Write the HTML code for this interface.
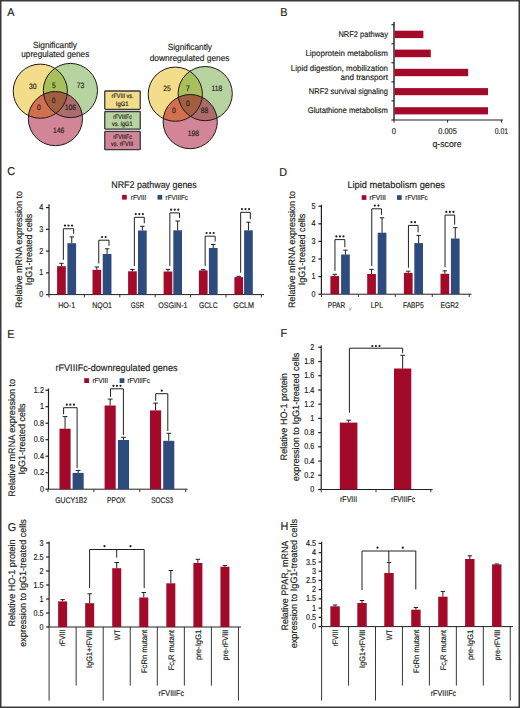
<!DOCTYPE html>
<html><head><meta charset="utf-8"><style>
html,body{margin:0;padding:0;background:#fff;}
svg{display:block;font-family:"Liberation Sans",sans-serif;}
text{stroke:#231f20;stroke-width:0.17px;text-rendering:geometricPrecision;}
</style></head><body>
<svg width="520" height="708" viewBox="0 0 520 708" fill="#231f20">
<rect x="0" y="0" width="520" height="708" fill="#fff"/>
<text x="7.30" y="15.80" font-size="11.4" textLength="7.22" lengthAdjust="spacingAndGlyphs">A</text>
<text x="280.30" y="15.90" font-size="11.4" textLength="7.22" lengthAdjust="spacingAndGlyphs">B</text>
<text x="7.30" y="175.40" font-size="11.4" textLength="7.82" lengthAdjust="spacingAndGlyphs">C</text>
<text x="279.30" y="175.70" font-size="11.4" textLength="7.82" lengthAdjust="spacingAndGlyphs">D</text>
<text x="7.30" y="337.50" font-size="11.4" textLength="7.22" lengthAdjust="spacingAndGlyphs">E</text>
<text x="280.60" y="337.00" font-size="11.4" textLength="6.62" lengthAdjust="spacingAndGlyphs">F</text>
<text x="7.80" y="530.50" font-size="11.4" textLength="8.42" lengthAdjust="spacingAndGlyphs">G</text>
<text x="280.60" y="529.80" font-size="11.4" textLength="7.82" lengthAdjust="spacingAndGlyphs">H</text>
<text x="55.00" y="47.50" font-size="8.8" text-anchor="middle" textLength="44.00" lengthAdjust="spacingAndGlyphs">Significantly</text>
<text x="55.25" y="57.00" font-size="8.8" text-anchor="middle" textLength="68.00" lengthAdjust="spacingAndGlyphs">upregulated genes</text>
<text x="189.85" y="50.40" font-size="8.8" text-anchor="middle" textLength="44.30" lengthAdjust="spacingAndGlyphs">Significantly</text>
<text x="189.60" y="60.50" font-size="8.8" text-anchor="middle" textLength="79.80" lengthAdjust="spacingAndGlyphs">downregulated genes</text>
<defs><clipPath id="cyL"><circle cx="40.3" cy="91.2" r="27.1"/></clipPath><clipPath id="cgL"><circle cx="70.4" cy="90.5" r="27.1"/></clipPath><clipPath id="cpL"><circle cx="55.4" cy="118.6" r="27.1"/></clipPath></defs>
<circle cx="40.3" cy="91.2" r="27.1" fill="#f3dc8a"/>
<circle cx="70.4" cy="90.5" r="27.1" fill="#b6d3a0"/>
<circle cx="55.4" cy="118.6" r="27.1" fill="#d28596"/>
<circle cx="70.4" cy="90.5" r="27.1" fill="#a9bf5c" clip-path="url(#cyL)"/>
<circle cx="55.4" cy="118.6" r="27.1" fill="#d16f4f" clip-path="url(#cyL)"/>
<circle cx="55.4" cy="118.6" r="27.1" fill="#ab6c6b" clip-path="url(#cgL)"/>
<g clip-path="url(#cyL)"><circle cx="55.4" cy="118.6" r="27.1" fill="#a25f40" clip-path="url(#cgL)"/></g>
<circle cx="40.3" cy="91.2" r="27.1" fill="none" stroke="#1e1a1a" stroke-width="1.0"/>
<circle cx="70.4" cy="90.5" r="27.1" fill="none" stroke="#1e1a1a" stroke-width="1.0"/>
<circle cx="55.4" cy="118.6" r="27.1" fill="none" stroke="#1e1a1a" stroke-width="1.0"/>
<text x="32.85" y="88.55" font-size="7.8" text-anchor="middle" textLength="7.55" lengthAdjust="spacingAndGlyphs">30</text>
<text x="54.00" y="88.25" font-size="7.8" text-anchor="middle" textLength="3.77" lengthAdjust="spacingAndGlyphs">5</text>
<text x="80.50" y="88.25" font-size="7.8" text-anchor="middle" textLength="7.55" lengthAdjust="spacingAndGlyphs">73</text>
<text x="53.70" y="103.25" font-size="7.8" text-anchor="middle" textLength="3.77" lengthAdjust="spacingAndGlyphs">0</text>
<text x="39.00" y="110.25" font-size="7.8" text-anchor="middle" textLength="3.77" lengthAdjust="spacingAndGlyphs">0</text>
<text x="70.50" y="110.25" font-size="7.8" text-anchor="middle" textLength="11.32" lengthAdjust="spacingAndGlyphs">106</text>
<text x="58.70" y="133.35" font-size="7.8" text-anchor="middle" textLength="11.32" lengthAdjust="spacingAndGlyphs">146</text>
<defs><clipPath id="cyR"><circle cx="175.3" cy="94.2" r="27.1"/></clipPath><clipPath id="cgR"><circle cx="205.2" cy="93.6" r="27.1"/></clipPath><clipPath id="cpR"><circle cx="190.2" cy="121.6" r="27.1"/></clipPath></defs>
<circle cx="175.3" cy="94.2" r="27.1" fill="#f3dc8a"/>
<circle cx="205.2" cy="93.6" r="27.1" fill="#b6d3a0"/>
<circle cx="190.2" cy="121.6" r="27.1" fill="#d28596"/>
<circle cx="205.2" cy="93.6" r="27.1" fill="#a9bf5c" clip-path="url(#cyR)"/>
<circle cx="190.2" cy="121.6" r="27.1" fill="#d16f4f" clip-path="url(#cyR)"/>
<circle cx="190.2" cy="121.6" r="27.1" fill="#ab6c6b" clip-path="url(#cgR)"/>
<g clip-path="url(#cyR)"><circle cx="190.2" cy="121.6" r="27.1" fill="#a25f40" clip-path="url(#cgR)"/></g>
<circle cx="175.3" cy="94.2" r="27.1" fill="none" stroke="#1e1a1a" stroke-width="1.0"/>
<circle cx="205.2" cy="93.6" r="27.1" fill="none" stroke="#1e1a1a" stroke-width="1.0"/>
<circle cx="190.2" cy="121.6" r="27.1" fill="none" stroke="#1e1a1a" stroke-width="1.0"/>
<text x="167.00" y="91.45" font-size="7.8" text-anchor="middle" textLength="7.55" lengthAdjust="spacingAndGlyphs">25</text>
<text x="188.00" y="91.45" font-size="7.8" text-anchor="middle" textLength="3.77" lengthAdjust="spacingAndGlyphs">7</text>
<text x="217.00" y="91.45" font-size="7.8" text-anchor="middle" textLength="10.82" lengthAdjust="spacingAndGlyphs">118</text>
<text x="188.00" y="105.75" font-size="7.8" text-anchor="middle" textLength="3.77" lengthAdjust="spacingAndGlyphs">0</text>
<text x="173.80" y="112.75" font-size="7.8" text-anchor="middle" textLength="3.77" lengthAdjust="spacingAndGlyphs">0</text>
<text x="204.50" y="112.75" font-size="7.8" text-anchor="middle" textLength="7.55" lengthAdjust="spacingAndGlyphs">88</text>
<text x="193.30" y="135.95" font-size="7.8" text-anchor="middle" textLength="11.32" lengthAdjust="spacingAndGlyphs">198</text>
<rect x="104.75" y="91.00" width="35.5" height="18.40" rx="0.8" fill="#f3dc8a" stroke="#383840" stroke-width="1.3"/>
<text x="122.60" y="98.20" font-size="6.4" text-anchor="middle" textLength="22.00" lengthAdjust="spacingAndGlyphs">rFVIII vs.</text>
<text x="122.20" y="105.60" font-size="6.4" text-anchor="middle" textLength="12.70" lengthAdjust="spacingAndGlyphs">IgG1</text>
<rect x="104.75" y="111.50" width="35.5" height="17.70" rx="0.8" fill="#b6d3a0" stroke="#383840" stroke-width="1.3"/>
<text x="122.60" y="118.70" font-size="6.4" text-anchor="middle" textLength="18.60" lengthAdjust="spacingAndGlyphs">rFVIIIFc</text>
<text x="122.20" y="126.10" font-size="6.4" text-anchor="middle" textLength="20.50" lengthAdjust="spacingAndGlyphs">vs. IgG1</text>
<rect x="104.75" y="131.30" width="35.5" height="18.40" rx="0.8" fill="#d28596" stroke="#383840" stroke-width="1.3"/>
<text x="122.60" y="138.50" font-size="6.4" text-anchor="middle" textLength="18.60" lengthAdjust="spacingAndGlyphs">rFVIIIFc</text>
<text x="122.20" y="145.90" font-size="6.4" text-anchor="middle" textLength="22.30" lengthAdjust="spacingAndGlyphs">vs. rFVIII</text>
<line x1="394.00" y1="22.00" x2="394.00" y2="120.00" stroke="#231f20" stroke-width="1.4"/>
<line x1="391.40" y1="24.70" x2="394.00" y2="24.70" stroke="#231f20" stroke-width="1.1"/>
<line x1="391.40" y1="43.80" x2="394.00" y2="43.80" stroke="#231f20" stroke-width="1.1"/>
<line x1="391.40" y1="62.80" x2="394.00" y2="62.80" stroke="#231f20" stroke-width="1.1"/>
<line x1="391.40" y1="81.90" x2="394.00" y2="81.90" stroke="#231f20" stroke-width="1.1"/>
<line x1="391.40" y1="100.90" x2="394.00" y2="100.90" stroke="#231f20" stroke-width="1.1"/>
<line x1="391.40" y1="120.00" x2="394.00" y2="120.00" stroke="#231f20" stroke-width="1.1"/>
<line x1="394.00" y1="120.00" x2="503.00" y2="120.00" stroke="#231f20" stroke-width="1.1"/>
<line x1="394.00" y1="120.00" x2="394.00" y2="122.60" stroke="#231f20" stroke-width="1.0"/>
<line x1="447.60" y1="120.00" x2="447.60" y2="122.60" stroke="#231f20" stroke-width="1.0"/>
<line x1="501.40" y1="120.00" x2="501.40" y2="122.60" stroke="#231f20" stroke-width="1.0"/>
<rect x="394.50" y="30.70" width="28.90" height="7.40" fill="#a30a29"/>
<rect x="394.50" y="49.60" width="36.30" height="7.60" fill="#a30a29"/>
<rect x="394.50" y="68.80" width="73.70" height="7.40" fill="#a30a29"/>
<rect x="394.50" y="88.10" width="93.50" height="7.10" fill="#a30a29"/>
<rect x="394.50" y="107.20" width="93.50" height="7.20" fill="#a30a29"/>
<text x="388.00" y="37.30" font-size="8.2" text-anchor="end" textLength="49.60" lengthAdjust="spacingAndGlyphs">NRF2 pathway</text>
<text x="388.00" y="56.20" font-size="8.2" text-anchor="end" textLength="82.60" lengthAdjust="spacingAndGlyphs">Lipoprotein metabolism</text>
<text x="388.00" y="70.80" font-size="8.2" text-anchor="end" textLength="97.20" lengthAdjust="spacingAndGlyphs">Lipid digestion, mobilization</text>
<text x="388.00" y="79.60" font-size="8.2" text-anchor="end" textLength="47.50" lengthAdjust="spacingAndGlyphs">and transport</text>
<text x="388.00" y="93.90" font-size="8.2" text-anchor="end" textLength="79.20" lengthAdjust="spacingAndGlyphs">NRF2 survival signaling</text>
<text x="388.00" y="113.00" font-size="8.2" text-anchor="end" textLength="80.30" lengthAdjust="spacingAndGlyphs">Glutathione metabolism</text>
<text x="394.00" y="133.60" font-size="8.4" text-anchor="middle" textLength="4.30" lengthAdjust="spacingAndGlyphs">0</text>
<text x="447.60" y="133.60" font-size="8.4" text-anchor="middle" textLength="18.50" lengthAdjust="spacingAndGlyphs">0.005</text>
<text x="501.40" y="133.60" font-size="8.4" text-anchor="middle" textLength="13.50" lengthAdjust="spacingAndGlyphs">0.01</text>
<text x="447.00" y="147.00" font-size="9.2" text-anchor="middle" textLength="29.00" lengthAdjust="spacingAndGlyphs">q-score</text>
<line x1="49.00" y1="204.30" x2="49.00" y2="294.60" stroke="#231f20" stroke-width="1.2"/>
<line x1="46.00" y1="294.60" x2="49.00" y2="294.60" stroke="#231f20" stroke-width="1.2"/>
<text x="43.20" y="297.20" font-size="8.6" text-anchor="end" textLength="4.02" lengthAdjust="spacingAndGlyphs">0</text>
<line x1="46.00" y1="272.85" x2="49.00" y2="272.85" stroke="#231f20" stroke-width="1.2"/>
<text x="43.20" y="275.45" font-size="8.6" text-anchor="end" textLength="4.02" lengthAdjust="spacingAndGlyphs">1</text>
<line x1="46.00" y1="251.10" x2="49.00" y2="251.10" stroke="#231f20" stroke-width="1.2"/>
<text x="43.20" y="253.70" font-size="8.6" text-anchor="end" textLength="4.02" lengthAdjust="spacingAndGlyphs">2</text>
<line x1="46.00" y1="229.35" x2="49.00" y2="229.35" stroke="#231f20" stroke-width="1.2"/>
<text x="43.20" y="231.95" font-size="8.6" text-anchor="end" textLength="4.02" lengthAdjust="spacingAndGlyphs">3</text>
<line x1="46.00" y1="207.60" x2="49.00" y2="207.60" stroke="#231f20" stroke-width="1.2"/>
<text x="43.20" y="210.20" font-size="8.6" text-anchor="end" textLength="4.02" lengthAdjust="spacingAndGlyphs">4</text>
<line x1="49.00" y1="294.60" x2="264.00" y2="294.60" stroke="#231f20" stroke-width="1.0"/>
<line x1="49.00" y1="294.60" x2="49.00" y2="297.40" stroke="#231f20" stroke-width="0.9"/>
<line x1="84.40" y1="294.60" x2="84.40" y2="297.40" stroke="#231f20" stroke-width="0.9"/>
<line x1="119.80" y1="294.60" x2="119.80" y2="297.40" stroke="#231f20" stroke-width="0.9"/>
<line x1="155.20" y1="294.60" x2="155.20" y2="297.40" stroke="#231f20" stroke-width="0.9"/>
<line x1="190.60" y1="294.60" x2="190.60" y2="297.40" stroke="#231f20" stroke-width="0.9"/>
<line x1="226.00" y1="294.60" x2="226.00" y2="297.40" stroke="#231f20" stroke-width="0.9"/>
<line x1="261.40" y1="294.60" x2="261.40" y2="297.40" stroke="#231f20" stroke-width="0.9"/>
<text x="154.00" y="188.10" font-size="9.6" text-anchor="middle" textLength="85.50" lengthAdjust="spacingAndGlyphs">NRF2 pathway genes</text>
<rect x="122.10" y="194.90" width="4.70" height="4.70" fill="#a30a29"/>
<text x="130.80" y="199.70" font-size="7.2" textLength="15.40" lengthAdjust="spacingAndGlyphs">rFVIII</text>
<rect x="157.50" y="194.90" width="4.70" height="4.70" fill="#2e4b7d"/>
<text x="165.60" y="199.70" font-size="7.2" textLength="22.30" lengthAdjust="spacingAndGlyphs">rFVIIIFc</text>
<rect x="57.10" y="266.20" width="8.70" height="28.40" fill="#a30a29"/>
<line x1="61.45" y1="263.30" x2="61.45" y2="266.20" stroke="#231f20" stroke-width="1.0"/>
<line x1="59.25" y1="263.30" x2="63.65" y2="263.30" stroke="#231f20" stroke-width="1.0"/>
<rect x="67.40" y="243.20" width="8.70" height="51.40" fill="#2e4b7d"/>
<line x1="71.75" y1="236.90" x2="71.75" y2="243.20" stroke="#231f20" stroke-width="1.0"/>
<line x1="69.55" y1="236.90" x2="73.95" y2="236.90" stroke="#231f20" stroke-width="1.0"/>
<polyline points="63.35,259.80 63.35,228.75 73.65,228.75 73.65,233.90" fill="none" stroke="#231f20" stroke-width="1.0"/>
<circle cx="64.95" cy="225.55" r="1.1" fill="#231f20"/>
<circle cx="68.50" cy="225.55" r="1.1" fill="#231f20"/>
<circle cx="72.05" cy="225.55" r="1.1" fill="#231f20"/>
<text x="66.70" y="307.80" font-size="8.2" text-anchor="middle" textLength="17.00" lengthAdjust="spacingAndGlyphs">HO-1</text>
<rect x="92.50" y="269.80" width="8.70" height="24.80" fill="#a30a29"/>
<line x1="96.85" y1="267.00" x2="96.85" y2="269.80" stroke="#231f20" stroke-width="1.0"/>
<line x1="94.65" y1="267.00" x2="99.05" y2="267.00" stroke="#231f20" stroke-width="1.0"/>
<rect x="102.75" y="254.00" width="8.70" height="40.60" fill="#2e4b7d"/>
<line x1="107.10" y1="248.80" x2="107.10" y2="254.00" stroke="#231f20" stroke-width="1.0"/>
<line x1="104.90" y1="248.80" x2="109.30" y2="248.80" stroke="#231f20" stroke-width="1.0"/>
<polyline points="98.75,263.50 98.75,240.20 109.00,240.20 109.00,245.80" fill="none" stroke="#231f20" stroke-width="1.0"/>
<circle cx="102.10" cy="237.00" r="1.1" fill="#231f20"/>
<circle cx="105.65" cy="237.00" r="1.1" fill="#231f20"/>
<text x="102.10" y="307.80" font-size="8.2" text-anchor="middle" textLength="19.50" lengthAdjust="spacingAndGlyphs">NQO1</text>
<rect x="128.10" y="271.30" width="8.70" height="23.30" fill="#a30a29"/>
<line x1="132.45" y1="269.50" x2="132.45" y2="271.30" stroke="#231f20" stroke-width="1.0"/>
<line x1="130.25" y1="269.50" x2="134.65" y2="269.50" stroke="#231f20" stroke-width="1.0"/>
<rect x="138.00" y="230.50" width="8.70" height="64.10" fill="#2e4b7d"/>
<line x1="142.35" y1="226.30" x2="142.35" y2="230.50" stroke="#231f20" stroke-width="1.0"/>
<line x1="140.15" y1="226.30" x2="144.55" y2="226.30" stroke="#231f20" stroke-width="1.0"/>
<polyline points="134.35,266.00 134.35,217.30 144.25,217.30 144.25,223.30" fill="none" stroke="#231f20" stroke-width="1.0"/>
<circle cx="135.75" cy="214.10" r="1.1" fill="#231f20"/>
<circle cx="139.30" cy="214.10" r="1.1" fill="#231f20"/>
<circle cx="142.85" cy="214.10" r="1.1" fill="#231f20"/>
<text x="137.50" y="307.80" font-size="8.2" text-anchor="middle" textLength="13.40" lengthAdjust="spacingAndGlyphs">GSR</text>
<rect x="163.60" y="271.50" width="8.70" height="23.10" fill="#a30a29"/>
<line x1="167.95" y1="269.40" x2="167.95" y2="271.50" stroke="#231f20" stroke-width="1.0"/>
<line x1="165.75" y1="269.40" x2="170.15" y2="269.40" stroke="#231f20" stroke-width="1.0"/>
<rect x="173.30" y="230.30" width="8.70" height="64.30" fill="#2e4b7d"/>
<line x1="177.65" y1="221.00" x2="177.65" y2="230.30" stroke="#231f20" stroke-width="1.0"/>
<line x1="175.45" y1="221.00" x2="179.85" y2="221.00" stroke="#231f20" stroke-width="1.0"/>
<polyline points="169.85,265.90 169.85,212.90 179.55,212.90 179.55,218.00" fill="none" stroke="#231f20" stroke-width="1.0"/>
<circle cx="171.15" cy="209.70" r="1.1" fill="#231f20"/>
<circle cx="174.70" cy="209.70" r="1.1" fill="#231f20"/>
<circle cx="178.25" cy="209.70" r="1.1" fill="#231f20"/>
<text x="172.90" y="307.80" font-size="8.2" text-anchor="middle" textLength="29.10" lengthAdjust="spacingAndGlyphs">OSGIN-1</text>
<rect x="198.90" y="270.40" width="8.70" height="24.20" fill="#a30a29"/>
<line x1="203.25" y1="269.60" x2="203.25" y2="270.40" stroke="#231f20" stroke-width="1.0"/>
<line x1="201.05" y1="269.60" x2="205.45" y2="269.60" stroke="#231f20" stroke-width="1.0"/>
<rect x="208.90" y="248.00" width="8.70" height="46.60" fill="#2e4b7d"/>
<line x1="213.25" y1="244.50" x2="213.25" y2="248.00" stroke="#231f20" stroke-width="1.0"/>
<line x1="211.05" y1="244.50" x2="215.45" y2="244.50" stroke="#231f20" stroke-width="1.0"/>
<polyline points="205.15,266.10 205.15,236.20 215.15,236.20 215.15,241.50" fill="none" stroke="#231f20" stroke-width="1.0"/>
<circle cx="206.60" cy="233.00" r="1.1" fill="#231f20"/>
<circle cx="210.15" cy="233.00" r="1.1" fill="#231f20"/>
<circle cx="213.70" cy="233.00" r="1.1" fill="#231f20"/>
<text x="208.30" y="307.80" font-size="8.2" text-anchor="middle" textLength="18.60" lengthAdjust="spacingAndGlyphs">GCLC</text>
<rect x="234.40" y="277.10" width="8.70" height="17.50" fill="#a30a29"/>
<line x1="238.75" y1="276.30" x2="238.75" y2="277.10" stroke="#231f20" stroke-width="1.0"/>
<line x1="236.55" y1="276.30" x2="240.95" y2="276.30" stroke="#231f20" stroke-width="1.0"/>
<rect x="244.10" y="230.30" width="8.70" height="64.30" fill="#2e4b7d"/>
<line x1="248.45" y1="222.20" x2="248.45" y2="230.30" stroke="#231f20" stroke-width="1.0"/>
<line x1="246.25" y1="222.20" x2="250.65" y2="222.20" stroke="#231f20" stroke-width="1.0"/>
<polyline points="240.65,272.80 240.65,212.30 250.35,212.30 250.35,219.20" fill="none" stroke="#231f20" stroke-width="1.0"/>
<circle cx="241.95" cy="209.10" r="1.1" fill="#231f20"/>
<circle cx="245.50" cy="209.10" r="1.1" fill="#231f20"/>
<circle cx="249.05" cy="209.10" r="1.1" fill="#231f20"/>
<text x="243.70" y="307.80" font-size="8.2" text-anchor="middle" textLength="20.70" lengthAdjust="spacingAndGlyphs">GCLM</text>
<text x="21.80" y="249.50" font-size="9.4" text-anchor="middle" textLength="117.00" lengthAdjust="spacingAndGlyphs" transform="rotate(-90 21.80 249.50)">Relative mRNA expression to</text>
<text x="32.40" y="249.50" font-size="9.4" text-anchor="middle" textLength="71.50" lengthAdjust="spacingAndGlyphs" transform="rotate(-90 32.40 249.50)">IgG1-treated cells</text>
<line x1="321.40" y1="204.80" x2="321.40" y2="294.20" stroke="#231f20" stroke-width="1.2"/>
<line x1="318.40" y1="294.20" x2="321.40" y2="294.20" stroke="#231f20" stroke-width="1.2"/>
<text x="315.60" y="296.80" font-size="8.6" text-anchor="end" textLength="4.02" lengthAdjust="spacingAndGlyphs">0</text>
<line x1="318.40" y1="276.60" x2="321.40" y2="276.60" stroke="#231f20" stroke-width="1.2"/>
<text x="315.60" y="279.20" font-size="8.6" text-anchor="end" textLength="4.02" lengthAdjust="spacingAndGlyphs">1</text>
<line x1="318.40" y1="259.00" x2="321.40" y2="259.00" stroke="#231f20" stroke-width="1.2"/>
<text x="315.60" y="261.60" font-size="8.6" text-anchor="end" textLength="4.02" lengthAdjust="spacingAndGlyphs">2</text>
<line x1="318.40" y1="241.40" x2="321.40" y2="241.40" stroke="#231f20" stroke-width="1.2"/>
<text x="315.60" y="244.00" font-size="8.6" text-anchor="end" textLength="4.02" lengthAdjust="spacingAndGlyphs">3</text>
<line x1="318.40" y1="223.80" x2="321.40" y2="223.80" stroke="#231f20" stroke-width="1.2"/>
<text x="315.60" y="226.40" font-size="8.6" text-anchor="end" textLength="4.02" lengthAdjust="spacingAndGlyphs">4</text>
<line x1="318.40" y1="206.20" x2="321.40" y2="206.20" stroke="#231f20" stroke-width="1.2"/>
<text x="315.60" y="208.80" font-size="8.6" text-anchor="end" textLength="4.02" lengthAdjust="spacingAndGlyphs">5</text>
<line x1="321.40" y1="294.20" x2="471.50" y2="294.20" stroke="#231f20" stroke-width="1.0"/>
<line x1="321.40" y1="294.20" x2="321.40" y2="297.00" stroke="#231f20" stroke-width="0.9"/>
<line x1="358.35" y1="294.20" x2="358.35" y2="297.00" stroke="#231f20" stroke-width="0.9"/>
<line x1="395.30" y1="294.20" x2="395.30" y2="297.00" stroke="#231f20" stroke-width="0.9"/>
<line x1="432.25" y1="294.20" x2="432.25" y2="297.00" stroke="#231f20" stroke-width="0.9"/>
<line x1="469.20" y1="294.20" x2="469.20" y2="297.00" stroke="#231f20" stroke-width="0.9"/>
<text x="396.20" y="187.70" font-size="9.6" text-anchor="middle" textLength="97.60" lengthAdjust="spacingAndGlyphs">Lipid metabolism genes</text>
<rect x="361.70" y="195.20" width="4.70" height="4.70" fill="#a30a29"/>
<text x="369.50" y="199.90" font-size="7.2" textLength="16.40" lengthAdjust="spacingAndGlyphs">rFVIII</text>
<rect x="397.00" y="195.20" width="4.70" height="4.70" fill="#2e4b7d"/>
<text x="405.30" y="199.90" font-size="7.2" textLength="22.40" lengthAdjust="spacingAndGlyphs">rFVIIIFc</text>
<rect x="330.40" y="276.10" width="8.70" height="18.10" fill="#a30a29"/>
<line x1="334.75" y1="274.30" x2="334.75" y2="276.10" stroke="#231f20" stroke-width="1.0"/>
<line x1="332.55" y1="274.30" x2="336.95" y2="274.30" stroke="#231f20" stroke-width="1.0"/>
<rect x="341.10" y="254.50" width="8.70" height="39.70" fill="#2e4b7d"/>
<line x1="345.45" y1="250.20" x2="345.45" y2="254.50" stroke="#231f20" stroke-width="1.0"/>
<line x1="343.25" y1="250.20" x2="347.65" y2="250.20" stroke="#231f20" stroke-width="1.0"/>
<polyline points="334.95,270.80 334.95,239.60 344.85,239.60 344.85,247.20" fill="none" stroke="#231f20" stroke-width="1.0"/>
<circle cx="336.35" cy="236.40" r="1.1" fill="#231f20"/>
<circle cx="339.90" cy="236.40" r="1.1" fill="#231f20"/>
<circle cx="343.45" cy="236.40" r="1.1" fill="#231f20"/>
<rect x="367.20" y="274.00" width="8.70" height="20.20" fill="#a30a29"/>
<line x1="371.55" y1="269.40" x2="371.55" y2="274.00" stroke="#231f20" stroke-width="1.0"/>
<line x1="369.35" y1="269.40" x2="373.75" y2="269.40" stroke="#231f20" stroke-width="1.0"/>
<rect x="377.70" y="232.70" width="8.70" height="61.50" fill="#2e4b7d"/>
<line x1="382.05" y1="217.80" x2="382.05" y2="232.70" stroke="#231f20" stroke-width="1.0"/>
<line x1="379.85" y1="217.80" x2="384.25" y2="217.80" stroke="#231f20" stroke-width="1.0"/>
<polyline points="371.75,265.90 371.75,208.80 381.45,208.80 381.45,214.80" fill="none" stroke="#231f20" stroke-width="1.0"/>
<circle cx="374.83" cy="205.60" r="1.1" fill="#231f20"/>
<circle cx="378.38" cy="205.60" r="1.1" fill="#231f20"/>
<rect x="403.90" y="272.80" width="8.70" height="21.40" fill="#a30a29"/>
<line x1="408.25" y1="271.20" x2="408.25" y2="272.80" stroke="#231f20" stroke-width="1.0"/>
<line x1="406.05" y1="271.20" x2="410.45" y2="271.20" stroke="#231f20" stroke-width="1.0"/>
<rect x="414.30" y="243.10" width="8.70" height="51.10" fill="#2e4b7d"/>
<line x1="418.65" y1="235.40" x2="418.65" y2="243.10" stroke="#231f20" stroke-width="1.0"/>
<line x1="416.45" y1="235.40" x2="420.85" y2="235.40" stroke="#231f20" stroke-width="1.0"/>
<polyline points="408.45,267.70 408.45,225.40 418.05,225.40 418.05,232.40" fill="none" stroke="#231f20" stroke-width="1.0"/>
<circle cx="411.48" cy="222.20" r="1.1" fill="#231f20"/>
<circle cx="415.03" cy="222.20" r="1.1" fill="#231f20"/>
<rect x="440.50" y="273.80" width="8.70" height="20.40" fill="#a30a29"/>
<line x1="444.85" y1="270.80" x2="444.85" y2="273.80" stroke="#231f20" stroke-width="1.0"/>
<line x1="442.65" y1="270.80" x2="447.05" y2="270.80" stroke="#231f20" stroke-width="1.0"/>
<rect x="450.90" y="238.50" width="8.70" height="55.70" fill="#2e4b7d"/>
<line x1="455.25" y1="227.70" x2="455.25" y2="238.50" stroke="#231f20" stroke-width="1.0"/>
<line x1="453.05" y1="227.70" x2="457.45" y2="227.70" stroke="#231f20" stroke-width="1.0"/>
<polyline points="445.05,267.30 445.05,215.10 454.65,215.10 454.65,224.70" fill="none" stroke="#231f20" stroke-width="1.0"/>
<circle cx="446.30" cy="211.90" r="1.1" fill="#231f20"/>
<circle cx="449.85" cy="211.90" r="1.1" fill="#231f20"/>
<circle cx="453.40" cy="211.90" r="1.1" fill="#231f20"/>
<text x="336.50" y="307.80" font-size="8.2" text-anchor="middle" textLength="17.40" lengthAdjust="spacingAndGlyphs">PPAR</text>
<text x="376.90" y="307.80" font-size="8.2" text-anchor="middle" textLength="12.30" lengthAdjust="spacingAndGlyphs">LPL</text>
<text x="413.30" y="307.80" font-size="8.2" text-anchor="middle" textLength="20.70" lengthAdjust="spacingAndGlyphs">FABP5</text>
<text x="449.70" y="307.80" font-size="8.2" text-anchor="middle" textLength="18.20" lengthAdjust="spacingAndGlyphs">EGR2</text>
<text x="350.4" y="310.2" font-size="5.4" text-anchor="middle" fill="#555" style="stroke:none" font-style="italic">&#947;</text>
<text x="294.70" y="249.50" font-size="9.4" text-anchor="middle" textLength="117.00" lengthAdjust="spacingAndGlyphs" transform="rotate(-90 294.70 249.50)">Relative mRNA expression to</text>
<text x="305.20" y="249.50" font-size="9.4" text-anchor="middle" textLength="71.50" lengthAdjust="spacingAndGlyphs" transform="rotate(-90 305.20 249.50)">IgG1-treated cells</text>
<line x1="48.50" y1="388.50" x2="48.50" y2="489.20" stroke="#231f20" stroke-width="1.2"/>
<line x1="45.50" y1="489.20" x2="48.50" y2="489.20" stroke="#231f20" stroke-width="1.2"/>
<text x="43.90" y="491.80" font-size="8.6" text-anchor="end" textLength="4.02" lengthAdjust="spacingAndGlyphs">0</text>
<line x1="45.50" y1="472.70" x2="48.50" y2="472.70" stroke="#231f20" stroke-width="1.2"/>
<text x="43.90" y="475.30" font-size="8.6" text-anchor="end" textLength="10.04" lengthAdjust="spacingAndGlyphs">0.2</text>
<line x1="45.50" y1="456.20" x2="48.50" y2="456.20" stroke="#231f20" stroke-width="1.2"/>
<text x="43.90" y="458.80" font-size="8.6" text-anchor="end" textLength="10.04" lengthAdjust="spacingAndGlyphs">0.4</text>
<line x1="45.50" y1="439.70" x2="48.50" y2="439.70" stroke="#231f20" stroke-width="1.2"/>
<text x="43.90" y="442.30" font-size="8.6" text-anchor="end" textLength="10.04" lengthAdjust="spacingAndGlyphs">0.6</text>
<line x1="45.50" y1="423.20" x2="48.50" y2="423.20" stroke="#231f20" stroke-width="1.2"/>
<text x="43.90" y="425.80" font-size="8.6" text-anchor="end" textLength="10.04" lengthAdjust="spacingAndGlyphs">0.8</text>
<line x1="45.50" y1="406.70" x2="48.50" y2="406.70" stroke="#231f20" stroke-width="1.2"/>
<text x="43.90" y="409.30" font-size="8.6" text-anchor="end" textLength="4.02" lengthAdjust="spacingAndGlyphs">1</text>
<line x1="45.50" y1="390.20" x2="48.50" y2="390.20" stroke="#231f20" stroke-width="1.2"/>
<text x="43.90" y="392.80" font-size="8.6" text-anchor="end" textLength="10.04" lengthAdjust="spacingAndGlyphs">1.2</text>
<line x1="48.50" y1="489.20" x2="187.60" y2="489.20" stroke="#231f20" stroke-width="1.0"/>
<line x1="48.00" y1="489.20" x2="48.00" y2="492.00" stroke="#231f20" stroke-width="0.9"/>
<line x1="93.90" y1="489.20" x2="93.90" y2="492.00" stroke="#231f20" stroke-width="0.9"/>
<line x1="139.80" y1="489.20" x2="139.80" y2="492.00" stroke="#231f20" stroke-width="0.9"/>
<line x1="185.70" y1="489.20" x2="185.70" y2="492.00" stroke="#231f20" stroke-width="0.9"/>
<text x="116.50" y="370.80" font-size="9.6" text-anchor="middle" textLength="122.00" lengthAdjust="spacingAndGlyphs">rFVIIIFc-downregulated genes</text>
<rect x="84.20" y="378.20" width="4.80" height="4.80" fill="#a30a29"/>
<text x="92.40" y="383.10" font-size="7.2" textLength="15.60" lengthAdjust="spacingAndGlyphs">rFVIII</text>
<rect x="119.60" y="378.20" width="4.80" height="4.80" fill="#2e4b7d"/>
<text x="127.40" y="383.10" font-size="7.2" textLength="22.40" lengthAdjust="spacingAndGlyphs">rFVIIIFc</text>
<rect x="59.50" y="428.70" width="11.10" height="60.50" fill="#a30a29"/>
<line x1="65.05" y1="416.60" x2="65.05" y2="428.70" stroke="#231f20" stroke-width="1.0"/>
<line x1="62.65" y1="416.60" x2="67.45" y2="416.60" stroke="#231f20" stroke-width="1.0"/>
<rect x="72.60" y="472.90" width="11.10" height="16.30" fill="#2e4b7d"/>
<line x1="78.15" y1="470.40" x2="78.15" y2="472.90" stroke="#231f20" stroke-width="1.0"/>
<line x1="75.75" y1="470.40" x2="80.55" y2="470.40" stroke="#231f20" stroke-width="1.0"/>
<polyline points="63.60,414.30 63.60,407.70 77.10,407.70 77.10,468.10" fill="none" stroke="#231f20" stroke-width="1.0"/>
<circle cx="66.80" cy="404.70" r="1.1" fill="#231f20"/>
<circle cx="70.35" cy="404.70" r="1.1" fill="#231f20"/>
<circle cx="73.90" cy="404.70" r="1.1" fill="#231f20"/>
<rect x="104.60" y="405.50" width="11.10" height="83.70" fill="#a30a29"/>
<line x1="110.15" y1="399.10" x2="110.15" y2="405.50" stroke="#231f20" stroke-width="1.0"/>
<line x1="107.75" y1="399.10" x2="112.55" y2="399.10" stroke="#231f20" stroke-width="1.0"/>
<rect x="117.90" y="440.00" width="11.10" height="49.20" fill="#2e4b7d"/>
<line x1="123.45" y1="437.30" x2="123.45" y2="440.00" stroke="#231f20" stroke-width="1.0"/>
<line x1="121.05" y1="437.30" x2="125.85" y2="437.30" stroke="#231f20" stroke-width="1.0"/>
<polyline points="110.50,396.80 110.50,388.80 123.40,388.80 123.40,435.00" fill="none" stroke="#231f20" stroke-width="1.0"/>
<circle cx="113.40" cy="385.80" r="1.1" fill="#231f20"/>
<circle cx="116.95" cy="385.80" r="1.1" fill="#231f20"/>
<circle cx="120.50" cy="385.80" r="1.1" fill="#231f20"/>
<rect x="150.00" y="410.40" width="11.10" height="78.80" fill="#a30a29"/>
<line x1="155.55" y1="403.10" x2="155.55" y2="410.40" stroke="#231f20" stroke-width="1.0"/>
<line x1="153.15" y1="403.10" x2="157.95" y2="403.10" stroke="#231f20" stroke-width="1.0"/>
<rect x="163.20" y="440.80" width="11.10" height="48.40" fill="#2e4b7d"/>
<line x1="168.75" y1="433.30" x2="168.75" y2="440.80" stroke="#231f20" stroke-width="1.0"/>
<line x1="166.35" y1="433.30" x2="171.15" y2="433.30" stroke="#231f20" stroke-width="1.0"/>
<polyline points="155.70,400.80 155.70,393.70 167.80,393.70 167.80,431.00" fill="none" stroke="#231f20" stroke-width="1.0"/>
<circle cx="161.75" cy="390.70" r="1.1" fill="#231f20"/>
<text x="71.20" y="502.60" font-size="8.2" text-anchor="middle" textLength="32.00" lengthAdjust="spacingAndGlyphs">GUCY1B2</text>
<text x="116.30" y="502.60" font-size="8.2" text-anchor="middle" textLength="18.50" lengthAdjust="spacingAndGlyphs">PPOX</text>
<text x="162.20" y="502.60" font-size="8.2" text-anchor="middle" textLength="22.00" lengthAdjust="spacingAndGlyphs">SOCS3</text>
<text x="14.90" y="437.80" font-size="9.4" text-anchor="middle" textLength="117.80" lengthAdjust="spacingAndGlyphs" transform="rotate(-90 14.90 437.80)">Relative mRNA expression to</text>
<text x="25.40" y="439.10" font-size="9.4" text-anchor="middle" textLength="71.00" lengthAdjust="spacingAndGlyphs" transform="rotate(-90 25.40 439.10)">IgG1-treated cells</text>
<line x1="321.20" y1="345.50" x2="321.20" y2="489.50" stroke="#231f20" stroke-width="1.2"/>
<line x1="318.20" y1="489.50" x2="321.20" y2="489.50" stroke="#231f20" stroke-width="1.2"/>
<text x="314.30" y="492.10" font-size="8.6" text-anchor="end" textLength="4.02" lengthAdjust="spacingAndGlyphs">0</text>
<line x1="318.20" y1="475.28" x2="321.20" y2="475.28" stroke="#231f20" stroke-width="1.2"/>
<text x="314.30" y="477.88" font-size="8.6" text-anchor="end" textLength="10.04" lengthAdjust="spacingAndGlyphs">0.2</text>
<line x1="318.20" y1="461.06" x2="321.20" y2="461.06" stroke="#231f20" stroke-width="1.2"/>
<text x="314.30" y="463.66" font-size="8.6" text-anchor="end" textLength="10.04" lengthAdjust="spacingAndGlyphs">0.4</text>
<line x1="318.20" y1="446.84" x2="321.20" y2="446.84" stroke="#231f20" stroke-width="1.2"/>
<text x="314.30" y="449.44" font-size="8.6" text-anchor="end" textLength="10.04" lengthAdjust="spacingAndGlyphs">0.6</text>
<line x1="318.20" y1="432.62" x2="321.20" y2="432.62" stroke="#231f20" stroke-width="1.2"/>
<text x="314.30" y="435.22" font-size="8.6" text-anchor="end" textLength="10.04" lengthAdjust="spacingAndGlyphs">0.8</text>
<line x1="318.20" y1="418.40" x2="321.20" y2="418.40" stroke="#231f20" stroke-width="1.2"/>
<text x="314.30" y="421.00" font-size="8.6" text-anchor="end" textLength="4.02" lengthAdjust="spacingAndGlyphs">1</text>
<line x1="318.20" y1="404.18" x2="321.20" y2="404.18" stroke="#231f20" stroke-width="1.2"/>
<text x="314.30" y="406.78" font-size="8.6" text-anchor="end" textLength="10.04" lengthAdjust="spacingAndGlyphs">1.2</text>
<line x1="318.20" y1="389.96" x2="321.20" y2="389.96" stroke="#231f20" stroke-width="1.2"/>
<text x="314.30" y="392.56" font-size="8.6" text-anchor="end" textLength="10.04" lengthAdjust="spacingAndGlyphs">1.4</text>
<line x1="318.20" y1="375.74" x2="321.20" y2="375.74" stroke="#231f20" stroke-width="1.2"/>
<text x="314.30" y="378.34" font-size="8.6" text-anchor="end" textLength="10.04" lengthAdjust="spacingAndGlyphs">1.6</text>
<line x1="318.20" y1="361.52" x2="321.20" y2="361.52" stroke="#231f20" stroke-width="1.2"/>
<text x="314.30" y="364.12" font-size="8.6" text-anchor="end" textLength="10.04" lengthAdjust="spacingAndGlyphs">1.8</text>
<line x1="318.20" y1="347.30" x2="321.20" y2="347.30" stroke="#231f20" stroke-width="1.2"/>
<text x="314.30" y="349.90" font-size="8.6" text-anchor="end" textLength="4.02" lengthAdjust="spacingAndGlyphs">2</text>
<line x1="321.20" y1="489.50" x2="432.60" y2="489.50" stroke="#231f20" stroke-width="1.0"/>
<line x1="321.20" y1="489.50" x2="321.20" y2="492.30" stroke="#231f20" stroke-width="0.9"/>
<line x1="376.00" y1="489.50" x2="376.00" y2="492.30" stroke="#231f20" stroke-width="0.9"/>
<line x1="430.80" y1="489.50" x2="430.80" y2="492.30" stroke="#231f20" stroke-width="0.9"/>
<rect x="339.80" y="422.60" width="17.60" height="66.90" fill="#a30a29"/>
<line x1="348.60" y1="420.20" x2="348.60" y2="422.60" stroke="#231f20" stroke-width="1.0"/>
<line x1="346.40" y1="420.20" x2="350.80" y2="420.20" stroke="#231f20" stroke-width="1.0"/>
<rect x="394.00" y="368.50" width="17.30" height="121.00" fill="#a30a29"/>
<line x1="402.65" y1="355.30" x2="402.65" y2="368.50" stroke="#231f20" stroke-width="1.0"/>
<line x1="400.40" y1="355.30" x2="404.90" y2="355.30" stroke="#231f20" stroke-width="1.0"/>
<polyline points="349.4,412.7 349.4,348.2 402.65,348.2 402.65,353.2" fill="none" stroke="#231f20" stroke-width="1.0"/>
<circle cx="372.35" cy="346.00" r="1.1" fill="#231f20"/>
<circle cx="375.90" cy="346.00" r="1.1" fill="#231f20"/>
<circle cx="379.45" cy="346.00" r="1.1" fill="#231f20"/>
<text x="348.60" y="502.40" font-size="8.2" text-anchor="middle" textLength="17.20" lengthAdjust="spacingAndGlyphs">rFVIII</text>
<text x="403.00" y="502.40" font-size="8.2" text-anchor="middle" textLength="24.20" lengthAdjust="spacingAndGlyphs">rFVIIIFc</text>
<text x="287.40" y="416.80" font-size="9.4" text-anchor="middle" textLength="87.20" lengthAdjust="spacingAndGlyphs" transform="rotate(-90 287.40 416.80)">Relative HO-1 protein</text>
<text x="298.80" y="417.00" font-size="9.4" text-anchor="middle" textLength="128.50" lengthAdjust="spacingAndGlyphs" transform="rotate(-90 298.80 417.00)">expression to IgG1-treated cells</text>
<line x1="49.10" y1="541.50" x2="49.10" y2="627.00" stroke="#231f20" stroke-width="1.2"/>
<line x1="46.10" y1="627.00" x2="49.10" y2="627.00" stroke="#231f20" stroke-width="1.2"/>
<text x="43.60" y="629.60" font-size="8.6" text-anchor="end" textLength="4.02" lengthAdjust="spacingAndGlyphs">0</text>
<line x1="46.10" y1="613.00" x2="49.10" y2="613.00" stroke="#231f20" stroke-width="1.2"/>
<text x="43.60" y="615.60" font-size="8.6" text-anchor="end" textLength="10.04" lengthAdjust="spacingAndGlyphs">0.5</text>
<line x1="46.10" y1="599.00" x2="49.10" y2="599.00" stroke="#231f20" stroke-width="1.2"/>
<text x="43.60" y="601.60" font-size="8.6" text-anchor="end" textLength="4.02" lengthAdjust="spacingAndGlyphs">1</text>
<line x1="46.10" y1="585.00" x2="49.10" y2="585.00" stroke="#231f20" stroke-width="1.2"/>
<text x="43.60" y="587.60" font-size="8.6" text-anchor="end" textLength="10.04" lengthAdjust="spacingAndGlyphs">1.5</text>
<line x1="46.10" y1="571.00" x2="49.10" y2="571.00" stroke="#231f20" stroke-width="1.2"/>
<text x="43.60" y="573.60" font-size="8.6" text-anchor="end" textLength="4.02" lengthAdjust="spacingAndGlyphs">2</text>
<line x1="46.10" y1="557.00" x2="49.10" y2="557.00" stroke="#231f20" stroke-width="1.2"/>
<text x="43.60" y="559.60" font-size="8.6" text-anchor="end" textLength="10.04" lengthAdjust="spacingAndGlyphs">2.5</text>
<line x1="46.10" y1="543.00" x2="49.10" y2="543.00" stroke="#231f20" stroke-width="1.2"/>
<text x="43.60" y="545.60" font-size="8.6" text-anchor="end" textLength="4.02" lengthAdjust="spacingAndGlyphs">3</text>
<line x1="49.10" y1="627.00" x2="241.05" y2="627.00" stroke="#231f20" stroke-width="1.0"/>
<line x1="49.10" y1="627.00" x2="49.10" y2="700.60" stroke="#231f20" stroke-width="0.9"/>
<line x1="76.15" y1="627.00" x2="76.15" y2="685.60" stroke="#231f20" stroke-width="0.9"/>
<line x1="103.20" y1="627.00" x2="103.20" y2="700.60" stroke="#231f20" stroke-width="0.9"/>
<line x1="130.25" y1="627.00" x2="130.25" y2="685.60" stroke="#231f20" stroke-width="0.9"/>
<line x1="157.30" y1="627.00" x2="157.30" y2="685.60" stroke="#231f20" stroke-width="0.9"/>
<line x1="184.35" y1="627.00" x2="184.35" y2="685.60" stroke="#231f20" stroke-width="0.9"/>
<line x1="211.40" y1="627.00" x2="211.40" y2="685.60" stroke="#231f20" stroke-width="0.9"/>
<line x1="238.45" y1="627.00" x2="238.45" y2="700.60" stroke="#231f20" stroke-width="0.9"/>
<rect x="58.12" y="601.40" width="9.00" height="25.60" fill="#a30a29"/>
<line x1="62.62" y1="599.60" x2="62.62" y2="601.40" stroke="#231f20" stroke-width="1.0"/>
<line x1="60.42" y1="599.60" x2="64.83" y2="599.60" stroke="#231f20" stroke-width="1.0"/>
<text x="65.42" y="629.60" font-size="8.0" text-anchor="end" textLength="17.00" lengthAdjust="spacingAndGlyphs" transform="rotate(-90 65.42 629.60)">rFVIII</text>
<rect x="85.18" y="603.20" width="9.00" height="23.80" fill="#a30a29"/>
<line x1="89.68" y1="593.80" x2="89.68" y2="603.20" stroke="#231f20" stroke-width="1.0"/>
<line x1="87.48" y1="593.80" x2="91.88" y2="593.80" stroke="#231f20" stroke-width="1.0"/>
<text x="92.48" y="629.60" font-size="8.0" text-anchor="end" textLength="38.30" lengthAdjust="spacingAndGlyphs" transform="rotate(-90 92.48 629.60)">IgG1+rFVIII</text>
<rect x="112.23" y="568.20" width="9.00" height="58.80" fill="#a30a29"/>
<line x1="116.73" y1="562.50" x2="116.73" y2="568.20" stroke="#231f20" stroke-width="1.0"/>
<line x1="114.53" y1="562.50" x2="118.93" y2="562.50" stroke="#231f20" stroke-width="1.0"/>
<text x="119.53" y="629.60" font-size="8.0" text-anchor="end" textLength="10.60" lengthAdjust="spacingAndGlyphs" transform="rotate(-90 119.53 629.60)">WT</text>
<rect x="139.28" y="597.50" width="9.00" height="29.50" fill="#a30a29"/>
<line x1="143.78" y1="592.50" x2="143.78" y2="597.50" stroke="#231f20" stroke-width="1.0"/>
<line x1="141.58" y1="592.50" x2="145.97" y2="592.50" stroke="#231f20" stroke-width="1.0"/>
<text x="146.58" y="629.60" font-size="8.0" text-anchor="end" textLength="43.40" lengthAdjust="spacingAndGlyphs" transform="rotate(-90 146.58 629.60)">FcRn mutant</text>
<rect x="166.33" y="583.30" width="9.00" height="43.70" fill="#a30a29"/>
<line x1="170.83" y1="570.50" x2="170.83" y2="583.30" stroke="#231f20" stroke-width="1.0"/>
<line x1="168.63" y1="570.50" x2="173.03" y2="570.50" stroke="#231f20" stroke-width="1.0"/>
<g transform="translate(173.63 629.9) rotate(-90) scale(0.92 1)"><text x="0" y="0" font-size="8.0" text-anchor="end">Fc<tspan font-size="5" dy="1.6">&#947;</tspan><tspan dy="-1.6">R mutant</tspan></text></g>
<rect x="193.38" y="563.00" width="9.00" height="64.00" fill="#a30a29"/>
<line x1="197.88" y1="559.30" x2="197.88" y2="563.00" stroke="#231f20" stroke-width="1.0"/>
<line x1="195.68" y1="559.30" x2="200.07" y2="559.30" stroke="#231f20" stroke-width="1.0"/>
<text x="200.68" y="629.60" font-size="8.0" text-anchor="end" textLength="30.50" lengthAdjust="spacingAndGlyphs" transform="rotate(-90 200.68 629.60)">pre-IgG1</text>
<rect x="220.43" y="566.80" width="9.00" height="60.20" fill="#a30a29"/>
<line x1="224.93" y1="565.50" x2="224.93" y2="566.80" stroke="#231f20" stroke-width="1.0"/>
<line x1="222.73" y1="565.50" x2="227.12" y2="565.50" stroke="#231f20" stroke-width="1.0"/>
<text x="227.73" y="629.60" font-size="8.0" text-anchor="end" textLength="31.00" lengthAdjust="spacingAndGlyphs" transform="rotate(-90 227.73 629.60)">pre-rFVIII</text>
<text x="171.33" y="695.80" font-size="8.2" text-anchor="middle" textLength="25.50" lengthAdjust="spacingAndGlyphs">rFVIIIFc</text>
<line x1="89.60" y1="549.50" x2="144.20" y2="549.50" stroke="#231f20" stroke-width="1.0"/>
<line x1="89.60" y1="549.50" x2="89.60" y2="588.20" stroke="#231f20" stroke-width="1.0"/>
<line x1="144.20" y1="549.50" x2="144.20" y2="588.20" stroke="#231f20" stroke-width="1.0"/>
<line x1="116.70" y1="549.50" x2="116.70" y2="557.60" stroke="#231f20" stroke-width="1.0"/>
<circle cx="104.50" cy="546.20" r="1.1" fill="#231f20"/>
<circle cx="130.50" cy="546.20" r="1.1" fill="#231f20"/>
<text x="15.20" y="583.00" font-size="9.4" text-anchor="middle" textLength="87.10" lengthAdjust="spacingAndGlyphs" transform="rotate(-90 15.20 583.00)">Relative HO-1 protein</text>
<text x="26.20" y="583.00" font-size="9.4" text-anchor="middle" textLength="127.50" lengthAdjust="spacingAndGlyphs" transform="rotate(-90 26.20 583.00)">expression to IgG1-treated cells</text>
<line x1="321.60" y1="541.80" x2="321.60" y2="626.60" stroke="#231f20" stroke-width="1.2"/>
<line x1="318.60" y1="626.60" x2="321.60" y2="626.60" stroke="#231f20" stroke-width="1.2"/>
<text x="316.00" y="629.20" font-size="8.6" text-anchor="end" textLength="4.02" lengthAdjust="spacingAndGlyphs">0</text>
<line x1="318.60" y1="617.36" x2="321.60" y2="617.36" stroke="#231f20" stroke-width="1.2"/>
<text x="316.00" y="619.96" font-size="8.6" text-anchor="end" textLength="10.04" lengthAdjust="spacingAndGlyphs">0.5</text>
<line x1="318.60" y1="608.12" x2="321.60" y2="608.12" stroke="#231f20" stroke-width="1.2"/>
<text x="316.00" y="610.72" font-size="8.6" text-anchor="end" textLength="4.02" lengthAdjust="spacingAndGlyphs">1</text>
<line x1="318.60" y1="598.88" x2="321.60" y2="598.88" stroke="#231f20" stroke-width="1.2"/>
<text x="316.00" y="601.48" font-size="8.6" text-anchor="end" textLength="10.04" lengthAdjust="spacingAndGlyphs">1.5</text>
<line x1="318.60" y1="589.64" x2="321.60" y2="589.64" stroke="#231f20" stroke-width="1.2"/>
<text x="316.00" y="592.24" font-size="8.6" text-anchor="end" textLength="4.02" lengthAdjust="spacingAndGlyphs">2</text>
<line x1="318.60" y1="580.40" x2="321.60" y2="580.40" stroke="#231f20" stroke-width="1.2"/>
<text x="316.00" y="583.00" font-size="8.6" text-anchor="end" textLength="10.04" lengthAdjust="spacingAndGlyphs">2.5</text>
<line x1="318.60" y1="571.16" x2="321.60" y2="571.16" stroke="#231f20" stroke-width="1.2"/>
<text x="316.00" y="573.76" font-size="8.6" text-anchor="end" textLength="4.02" lengthAdjust="spacingAndGlyphs">3</text>
<line x1="318.60" y1="561.92" x2="321.60" y2="561.92" stroke="#231f20" stroke-width="1.2"/>
<text x="316.00" y="564.52" font-size="8.6" text-anchor="end" textLength="10.04" lengthAdjust="spacingAndGlyphs">3.5</text>
<line x1="318.60" y1="552.68" x2="321.60" y2="552.68" stroke="#231f20" stroke-width="1.2"/>
<text x="316.00" y="555.28" font-size="8.6" text-anchor="end" textLength="4.02" lengthAdjust="spacingAndGlyphs">4</text>
<line x1="318.60" y1="543.44" x2="321.60" y2="543.44" stroke="#231f20" stroke-width="1.2"/>
<text x="316.00" y="546.04" font-size="8.6" text-anchor="end" textLength="10.04" lengthAdjust="spacingAndGlyphs">4.5</text>
<line x1="321.60" y1="626.60" x2="512.85" y2="626.60" stroke="#231f20" stroke-width="1.0"/>
<line x1="321.60" y1="626.60" x2="321.60" y2="700.60" stroke="#231f20" stroke-width="0.9"/>
<line x1="348.55" y1="626.60" x2="348.55" y2="685.60" stroke="#231f20" stroke-width="0.9"/>
<line x1="375.50" y1="626.60" x2="375.50" y2="700.60" stroke="#231f20" stroke-width="0.9"/>
<line x1="402.45" y1="626.60" x2="402.45" y2="685.60" stroke="#231f20" stroke-width="0.9"/>
<line x1="429.40" y1="626.60" x2="429.40" y2="685.60" stroke="#231f20" stroke-width="0.9"/>
<line x1="456.35" y1="626.60" x2="456.35" y2="685.60" stroke="#231f20" stroke-width="0.9"/>
<line x1="483.30" y1="626.60" x2="483.30" y2="685.60" stroke="#231f20" stroke-width="0.9"/>
<line x1="510.25" y1="626.60" x2="510.25" y2="700.60" stroke="#231f20" stroke-width="0.9"/>
<rect x="330.38" y="606.30" width="9.40" height="20.30" fill="#a30a29"/>
<line x1="335.08" y1="605.00" x2="335.08" y2="606.30" stroke="#231f20" stroke-width="1.0"/>
<line x1="332.88" y1="605.00" x2="337.28" y2="605.00" stroke="#231f20" stroke-width="1.0"/>
<text x="337.88" y="629.60" font-size="8.0" text-anchor="end" textLength="17.00" lengthAdjust="spacingAndGlyphs" transform="rotate(-90 337.88 629.60)">rFVIII</text>
<rect x="357.33" y="603.00" width="9.40" height="23.60" fill="#a30a29"/>
<line x1="362.03" y1="600.50" x2="362.03" y2="603.00" stroke="#231f20" stroke-width="1.0"/>
<line x1="359.83" y1="600.50" x2="364.23" y2="600.50" stroke="#231f20" stroke-width="1.0"/>
<text x="364.83" y="629.60" font-size="8.0" text-anchor="end" textLength="38.30" lengthAdjust="spacingAndGlyphs" transform="rotate(-90 364.83 629.60)">IgG1+rFVIII</text>
<rect x="384.28" y="573.00" width="9.40" height="53.60" fill="#a30a29"/>
<line x1="388.98" y1="562.40" x2="388.98" y2="573.00" stroke="#231f20" stroke-width="1.0"/>
<line x1="386.78" y1="562.40" x2="391.18" y2="562.40" stroke="#231f20" stroke-width="1.0"/>
<text x="391.78" y="629.60" font-size="8.0" text-anchor="end" textLength="10.60" lengthAdjust="spacingAndGlyphs" transform="rotate(-90 391.78 629.60)">WT</text>
<rect x="411.23" y="609.70" width="9.40" height="16.90" fill="#a30a29"/>
<line x1="415.93" y1="607.50" x2="415.93" y2="609.70" stroke="#231f20" stroke-width="1.0"/>
<line x1="413.73" y1="607.50" x2="418.13" y2="607.50" stroke="#231f20" stroke-width="1.0"/>
<text x="418.73" y="629.60" font-size="8.0" text-anchor="end" textLength="43.40" lengthAdjust="spacingAndGlyphs" transform="rotate(-90 418.73 629.60)">FcRn mutant</text>
<rect x="438.18" y="596.70" width="9.40" height="29.90" fill="#a30a29"/>
<line x1="442.88" y1="591.40" x2="442.88" y2="596.70" stroke="#231f20" stroke-width="1.0"/>
<line x1="440.68" y1="591.40" x2="445.08" y2="591.40" stroke="#231f20" stroke-width="1.0"/>
<g transform="translate(445.68 629.9) rotate(-90) scale(0.92 1)"><text x="0" y="0" font-size="8.0" text-anchor="end">Fc<tspan font-size="5" dy="1.6">&#947;</tspan><tspan dy="-1.6">R mutant</tspan></text></g>
<rect x="465.13" y="559.00" width="9.40" height="67.60" fill="#a30a29"/>
<line x1="469.83" y1="555.80" x2="469.83" y2="559.00" stroke="#231f20" stroke-width="1.0"/>
<line x1="467.63" y1="555.80" x2="472.03" y2="555.80" stroke="#231f20" stroke-width="1.0"/>
<text x="472.63" y="629.60" font-size="8.0" text-anchor="end" textLength="30.50" lengthAdjust="spacingAndGlyphs" transform="rotate(-90 472.63 629.60)">pre-IgG1</text>
<rect x="492.08" y="564.40" width="9.40" height="62.20" fill="#a30a29"/>
<line x1="496.78" y1="564.00" x2="496.78" y2="564.40" stroke="#231f20" stroke-width="1.0"/>
<line x1="494.58" y1="564.00" x2="498.98" y2="564.00" stroke="#231f20" stroke-width="1.0"/>
<text x="499.58" y="629.60" font-size="8.0" text-anchor="end" textLength="31.00" lengthAdjust="spacingAndGlyphs" transform="rotate(-90 499.58 629.60)">pre-rFVIII</text>
<text x="443.38" y="695.80" font-size="8.2" text-anchor="middle" textLength="25.50" lengthAdjust="spacingAndGlyphs">rFVIIIFc</text>
<line x1="362.00" y1="551.00" x2="415.80" y2="551.00" stroke="#231f20" stroke-width="1.0"/>
<line x1="362.00" y1="551.00" x2="362.00" y2="590.00" stroke="#231f20" stroke-width="1.0"/>
<line x1="415.80" y1="551.00" x2="415.80" y2="589.50" stroke="#231f20" stroke-width="1.0"/>
<line x1="388.80" y1="551.00" x2="388.80" y2="561.70" stroke="#231f20" stroke-width="1.0"/>
<circle cx="377.50" cy="547.70" r="1.1" fill="#231f20"/>
<circle cx="402.80" cy="547.70" r="1.1" fill="#231f20"/>
<g transform="translate(287.9 585.6) rotate(-90) scale(0.95 1)"><text x="0" y="0" font-size="9.4" text-anchor="middle">Relative PPAR<tspan font-size="6" dy="2">&#947;</tspan><tspan dy="-2"> mRNA</tspan></text></g>
<text x="297.30" y="583.60" font-size="9.4" text-anchor="middle" textLength="129.40" lengthAdjust="spacingAndGlyphs" transform="rotate(-90 297.30 583.60)">expression to IgG1-treated cells</text>
<rect x="0.75" y="0.75" width="518.5" height="706.5" fill="none" stroke="#3a3a3a" stroke-width="1.5"/>
</svg>
</body></html>
